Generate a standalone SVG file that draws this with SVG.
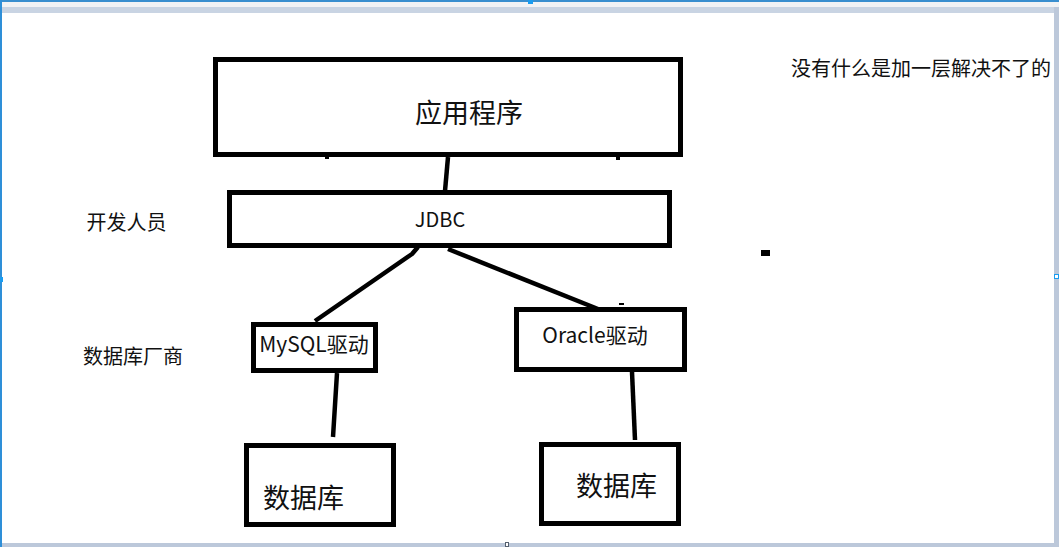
<svg xmlns="http://www.w3.org/2000/svg" width="1059" height="547" viewBox="0 0 1059 547">
<style>
.box{fill:#fff;stroke:#000;stroke-width:5}
.con{fill:none;stroke:#000;stroke-width:4.5;stroke-linejoin:round}
.t{font-family:"Noto Sans CJK SC","Microsoft YaHei",sans-serif;fill:#111}
.c{text-anchor:middle}
</style>
<g id="frame">
<rect x="0" y="0" width="1059" height="547" fill="#fff"/>
<rect x="0" y="0" width="1059" height="2" fill="#3a8fcf"/>
<rect x="0" y="2" width="1059" height="5" fill="#f2f3f5"/>
<rect x="0" y="7" width="1059" height="6" fill="#c9d4e3"/>
<rect x="1054" y="7" width="5" height="540" fill="#bcc8da"/>
<rect x="0" y="543" width="1059" height="4" fill="#bcc8da"/>
<rect x="0" y="0" width="2" height="547" fill="#2e8fd8"/>
<rect x="528" y="0" width="5" height="4" fill="#1a9cf0"/>
<rect x="0" y="277" width="3" height="5" fill="#1a9cf0"/>
<rect x="1054.5" y="274.5" width="4" height="4" fill="#fff" stroke="#1a9cf0"/>
<rect x="505.5" y="542.5" width="3" height="4" fill="#fff" stroke="#55606e"/>
</g>
<g id="connectors">
<line class="con" x1="448" y1="157" x2="445" y2="191"/>
<polyline class="con" points="418,247 412,254 315,321"/>
<line class="con" x1="448" y1="249" x2="598" y2="309"/>
<line class="con" x1="337" y1="373" x2="333" y2="437"/>
<line class="con" x1="632" y1="372" x2="635" y2="440"/>
</g>
<g id="app">
<rect class="box" x="215.5" y="59.5" width="465" height="95"/>
<text class="t c" x="469" y="123" font-size="27">应用程序</text>
</g>
<g id="jdbc">
<rect class="box" x="229.5" y="192.5" width="440" height="53"/>
<text class="t c" x="440" y="227" font-size="20">JDBC</text>
</g>
<g id="mysql">
<rect class="box" x="253.5" y="324.5" width="122" height="46"/>
<text class="t c" x="314" y="352" font-size="21">MySQL驱动</text>
</g>
<g id="oracle">
<rect class="box" x="516.5" y="309.5" width="168" height="60"/>
<text class="t c" x="595" y="343" font-size="21">Oracle驱动</text>
</g>
<g id="db1">
<rect class="box" x="246.5" y="445.5" width="147" height="79"/>
<text class="t c" x="303.5" y="508" font-size="27">数据库</text>
</g>
<g id="db2">
<rect class="box" x="541.5" y="444.5" width="137" height="79"/>
<text class="t c" x="616.5" y="496" font-size="27">数据库</text>
</g>
<g id="labels">
<text class="t c" x="126.5" y="230" font-size="20">开发人员</text>
<text class="t c" x="133" y="364" font-size="20">数据库厂商</text>
<text class="t" x="791" y="76" font-size="20">没有什么是加一层解决不了的</text>
</g>
<g id="marks" fill="#000">
<rect x="325" y="156" width="4" height="3"/>
<rect x="616" y="156" width="4" height="4"/>
<rect x="619" y="303" width="5" height="2"/>
<rect x="761" y="250" width="9" height="6"/>
</g>
</svg>
